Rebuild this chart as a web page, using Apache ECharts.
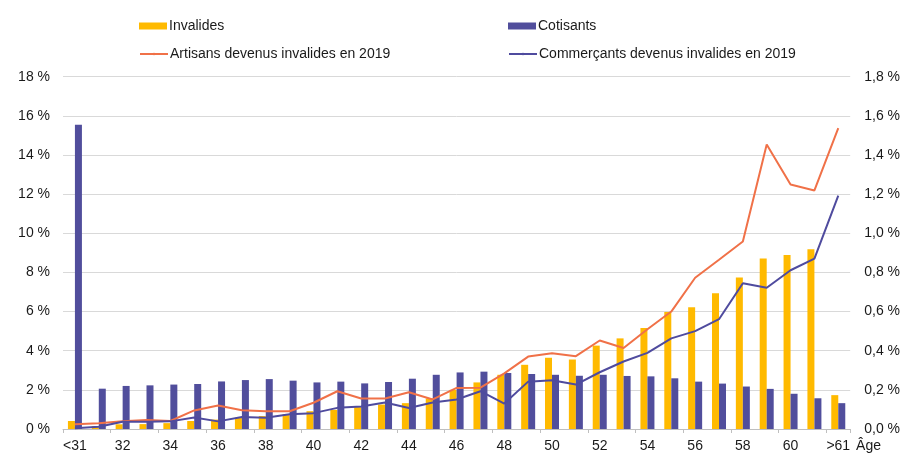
<!DOCTYPE html>
<html>
<head>
<meta charset="utf-8">
<script src="https://cdn.jsdelivr.net/npm/echarts@6/dist/echarts.min.js"></script>
<style>
html,body{margin:0;padding:0;background:#fff;}
#chart{width:903px;height:453px;}
</style>
</head>
<body>
<div id="chart"></div>
<script>
var categories = ['<31','31','32','33','34','35','36','37','38','39','40','41','42','43','44','45','46','47','48','49','50','51','52','53','54','55','56','57','58','59','60','61','>61'];
var invalides = [0.41,0.15,0.24,0.25,0.30,0.41,0.48,0.58,0.66,0.76,0.91,0.98,1.12,1.25,1.32,1.56,2.00,2.38,2.77,3.28,3.64,3.55,4.26,4.63,5.16,5.98,6.22,6.93,7.74,8.71,8.89,9.18,1.73];
var cotisants = [15.55,2.06,2.20,2.23,2.27,2.30,2.43,2.50,2.55,2.47,2.38,2.42,2.33,2.40,2.57,2.77,2.89,2.93,2.86,2.81,2.77,2.72,2.77,2.71,2.69,2.59,2.42,2.32,2.17,2.05,1.80,1.57,1.32];
var artisans = [0.024,0.029,0.039,0.046,0.041,0.095,0.120,0.096,0.091,0.091,0.134,0.193,0.156,0.156,0.188,0.151,0.210,0.211,0.284,0.370,0.387,0.372,0.452,0.414,0.510,0.600,0.773,0.865,0.958,1.454,1.249,1.219,1.537];
var commercants = [0.004,0.012,0.037,0.037,0.039,0.059,0.039,0.061,0.058,0.075,0.081,0.108,0.115,0.135,0.107,0.135,0.151,0.193,0.130,0.242,0.249,0.227,0.290,0.345,0.389,0.463,0.500,0.561,0.745,0.722,0.811,0.871,1.192];

var font = 'Liberation Sans, Arial, sans-serif';
var txt = '#1a1a1a';
var cOrange = '#FFBA00';
var cBlue = '#514E9C';
var cLineOrange = '#F07148';
var cLineBlue = '#4F4B9E';

function legend(name, left, top, isLine) {
  var l = {
    data: [name], left: left, top: top,
    itemWidth: 28, itemHeight: isLine ? 3 : 7, itemGap: 0,
    textStyle: {fontFamily: font, fontSize: 14, color: txt, padding: [0,0,0,-3]},
    selectedMode: false
  };
  if (!isLine) l.icon = 'rect';
  return l;
}

var chart = echarts.init(document.getElementById('chart'));
chart.setOption({
  animation: false,
  backgroundColor: '#fff',
  legend: [
    legend('Invalides', 134, 14, false),
    legend('Cotisants', 503, 14, false),
    legend('Artisans devenus invalides en 2019', 134, 42, true),
    legend('Commerçants devenus invalides en 2019', 503, 42, true)
  ],
  grid: {left: 63, right: 50, top: 76.7, bottom: 21.3, containLabel: false},
  xAxis: {
    type: 'category', data: categories,
    name: 'Âge', nameLocation: 'end', nameGap: -2,
    nameTextStyle: {fontFamily: font, fontSize: 14, color: txt, verticalAlign: 'top', align: 'left', padding: [10,0,0,0]},
    axisLine: {lineStyle: {color: '#bfbfbf', width: 1}},
    axisTick: {show: true, length: 4, lineStyle: {color: '#bfbfbf'}},
    axisLabel: {interval: 1, fontFamily: font, fontSize: 14, color: txt, margin: 10}
  },
  yAxis: [{
    type: 'value', min: 0, max: 18, interval: 2,
    axisLabel: {fontFamily: font, fontSize: 14, color: txt, margin: 13, formatter: function(v){return v + ' %';}},
    splitLine: {lineStyle: {color: '#d9d9d9', width: 1}},
    axisLine: {show: false}, axisTick: {show: false}
  }, {
    type: 'value', min: 0, max: 1.8, interval: 0.2,
    axisLabel: {fontFamily: font, fontSize: 14, color: txt, margin: 14, formatter: function(v){return v.toFixed(1).replace('.', ',') + ' %';}},
    splitLine: {show: false},
    axisLine: {show: false}, axisTick: {show: false}
  }],
  series: [{
    name: 'Invalides', type: 'bar', data: invalides, yAxisIndex: 0,
    barWidth: 7, barGap: '0%', itemStyle: {color: cOrange}
  }, {
    name: 'Cotisants', type: 'bar', data: cotisants, yAxisIndex: 0,
    barWidth: 7, barGap: '0%', itemStyle: {color: cBlue}
  }, {
    name: 'Artisans devenus invalides en 2019', type: 'line', data: artisans, yAxisIndex: 1,
    symbol: 'none', lineStyle: {color: cLineOrange, width: 2}, itemStyle: {color: cLineOrange}
  }, {
    name: 'Commerçants devenus invalides en 2019', type: 'line', data: commercants, yAxisIndex: 1,
    symbol: 'none', lineStyle: {color: cLineBlue, width: 2}, itemStyle: {color: cLineBlue}
  }]
});
</script>
</body>
</html>
